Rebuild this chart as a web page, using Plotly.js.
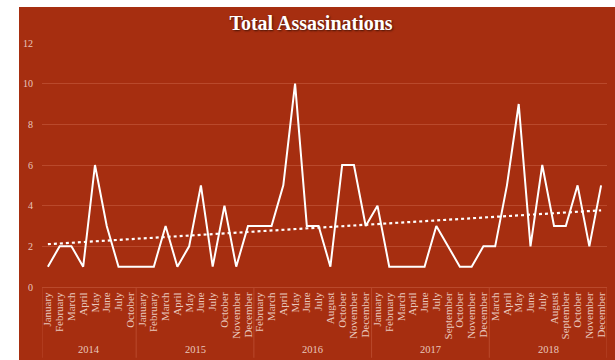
<!DOCTYPE html>
<html>
<head>
<meta charset="utf-8">
<script src="https://cdn.plot.ly/plotly-3.0.1.min.js"></script>
<style>
html,body{margin:0;padding:0;background:#ffffff;}
#chart{position:absolute;left:19px;top:7px;width:596px;height:353px;}
</style>
</head>
<body>
<div id="chart"></div>
<script>
const years = ["2014","2015","2016","2017","2018"];
const months2014 = ["January","February","March","April","May","June","July","October"];
const months2015 = ["January","February","March","April","May","June","July","October","November","December"];
const months2016 = ["February","March","April","May","June","July","August","October","November","December"];
const months2017 = ["January","February","March","April","June","July","September","October","November","December"];
const months2018 = ["March","April","May","June","July","August","September","October","November","December"];
const values2014 = [1,2,2,1,6,3,1,1];
const values2015 = [1,1,3,1,2,5,1,4,1,3];
const values2016 = [3,3,5,10,3,3,1,6,6,3];
const values2017 = [4,1,1,1,1,3,2,1,1,2];
const values2018 = [2,5,9,2,6,3,3,5,2,5];

const monthGroups = [months2014,months2015,months2016,months2017,months2018];
const valueGroups = [values2014,values2015,values2016,values2017,values2018];

const xIdx = [], xMonth = [], yVal = [];
const groupStart = [];
monthGroups.forEach((g,gi)=>{
  groupStart.push(xIdx.length);
  g.forEach((m,mi)=>{
    xIdx.push(xIdx.length); xMonth.push(m); yVal.push(valueGroups[gi][mi]);
  });
});
const n = yVal.length;

// linear trendline (least squares on point index)
let sx=0, sy=0, sxx=0, sxy=0;
for(let i=0;i<n;i++){sx+=i;sy+=yVal[i];sxx+=i*i;sxy+=i*yVal[i];}
const slope = (n*sxy-sx*sy)/(n*sxx-sx*sx);
const intercept = (sy-slope*sx)/n;
const trend = xIdx.map(i=>intercept+slope*i);

const red = "#a62e10";
const grid = "#b9492c";
const tickCol = "#e9c7bd";
const serif = "Liberation Serif, Times New Roman, serif";

const data = [
  {x:xIdx, y:yVal, type:"scatter", mode:"lines",
   line:{color:"#ffffff", width:2}, name:"Total", hoverinfo:"y"},
  {x:xIdx, y:trend, type:"scatter", mode:"lines",
   line:{color:"#ffffff", width:2.2, dash:"dot"}, name:"Trend", hoverinfo:"skip"}
];

const shapes = [];
const annotations = [];
const bounds = groupStart.concat([n]);
bounds.forEach(b=>{
  shapes.push({type:"line", xref:"x", yref:"paper", x0:b-0.5, x1:b-0.5, y0:0, y1:-0.29,
    line:{color:grid, width:1}});
});
years.forEach((yr,gi)=>{
  const c = (bounds[gi] + bounds[gi+1]-1)/2;
  annotations.push({text:yr, x:c, xref:"x", y:-0.258, yref:"paper", yanchor:"middle",
    showarrow:false, font:{family:serif, size:10.5, color:tickCol}});
});

const layout = {
  width:596, height:353,
  paper_bgcolor:red, plot_bgcolor:red,
  margin:{l:23, r:8, t:36, b:73},
  showlegend:false,
  title:{text:"<b>Total Assasinations</b>", x:0.49, xanchor:"center", y:0.955, yanchor:"middle",
    font:{family:serif, size:20, color:"#ffffff", shadow:"1px 1px 2px rgba(0,0,0,0.6)"}},
  xaxis:{range:[-0.5, n-0.5], tickmode:"array", tickvals:xIdx, ticktext:xMonth, tickangle:-90,
    tickfont:{family:serif, size:11, color:tickCol},
    showgrid:false, showline:true, linecolor:grid, linewidth:1,
    ticks:"", zeroline:false, automargin:false},
  yaxis:{range:[0,12], dtick:2, tick0:0, showgrid:true, gridcolor:grid, gridwidth:1,
    zeroline:false, showline:false, ticks:"",
    tickfont:{family:serif, size:10, color:tickCol}, ticklabelstandoff:8},
  shapes:shapes,
  annotations:annotations
};

Plotly.newPlot("chart", data, layout, {displayModeBar:false, staticPlot:true});
</script>
</body>
</html>
